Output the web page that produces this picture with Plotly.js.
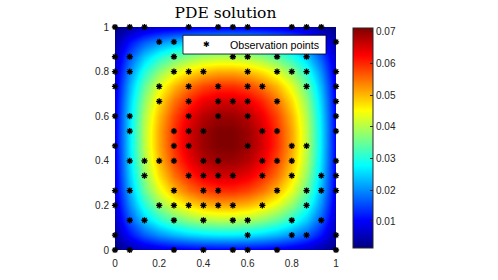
<!DOCTYPE html>
<html><head><meta charset="utf-8">
<script src="https://cdn.plot.ly/plotly-3.0.1.min.js"></script>
<style>html,body{margin:0;padding:0;background:#fff}#chart{width:498px;height:280px}</style>
</head><body><div id="chart"></div>
<script>
// grid coordinates of the solution field (16 x 16)
const gridX = [0, 0.0667, 0.1333, 0.2, 0.2667, 0.3333, 0.4, 0.4667, 0.5333, 0.6, 0.6667, 0.7333, 0.8, 0.8667, 0.9333, 1];
const gridY = [0, 0.0667, 0.1333, 0.2, 0.2667, 0.3333, 0.4, 0.4667, 0.5333, 0.6, 0.6667, 0.7333, 0.8, 0.8667, 0.9333, 1];
// solution values (rows = y, columns = x)
const solution = [
  [0.0016,0.0042,0.0060,0.0073,0.0082,0.0088,0.0092,0.0094,0.0094,0.0092,0.0088,0.0082,0.0073,0.0060,0.0042,0.0016],
  [0.0042,0.0112,0.0163,0.0200,0.0227,0.0246,0.0258,0.0264,0.0264,0.0258,0.0246,0.0227,0.0200,0.0163,0.0112,0.0042],
  [0.0060,0.0163,0.0240,0.0299,0.0342,0.0372,0.0392,0.0401,0.0401,0.0392,0.0372,0.0342,0.0299,0.0240,0.0163,0.0060],
  [0.0073,0.0200,0.0299,0.0374,0.0431,0.0471,0.0497,0.0510,0.0510,0.0497,0.0471,0.0431,0.0374,0.0299,0.0200,0.0073],
  [0.0082,0.0227,0.0342,0.0431,0.0498,0.0546,0.0577,0.0593,0.0593,0.0577,0.0546,0.0498,0.0431,0.0342,0.0227,0.0082],
  [0.0088,0.0246,0.0372,0.0471,0.0546,0.0600,0.0635,0.0653,0.0653,0.0635,0.0600,0.0546,0.0471,0.0372,0.0246,0.0088],
  [0.0092,0.0258,0.0392,0.0497,0.0577,0.0635,0.0673,0.0692,0.0692,0.0673,0.0635,0.0577,0.0497,0.0392,0.0258,0.0092],
  [0.0094,0.0264,0.0401,0.0510,0.0593,0.0653,0.0692,0.0711,0.0711,0.0692,0.0653,0.0593,0.0510,0.0401,0.0264,0.0094],
  [0.0094,0.0264,0.0401,0.0510,0.0593,0.0653,0.0692,0.0711,0.0711,0.0692,0.0653,0.0593,0.0510,0.0401,0.0264,0.0094],
  [0.0092,0.0258,0.0392,0.0497,0.0577,0.0635,0.0673,0.0692,0.0692,0.0673,0.0635,0.0577,0.0497,0.0392,0.0258,0.0092],
  [0.0088,0.0246,0.0372,0.0471,0.0546,0.0600,0.0635,0.0653,0.0653,0.0635,0.0600,0.0546,0.0471,0.0372,0.0246,0.0088],
  [0.0082,0.0227,0.0342,0.0431,0.0498,0.0546,0.0577,0.0593,0.0593,0.0577,0.0546,0.0498,0.0431,0.0342,0.0227,0.0082],
  [0.0073,0.0200,0.0299,0.0374,0.0431,0.0471,0.0497,0.0510,0.0510,0.0497,0.0471,0.0431,0.0374,0.0299,0.0200,0.0073],
  [0.0060,0.0163,0.0240,0.0299,0.0342,0.0372,0.0392,0.0401,0.0401,0.0392,0.0372,0.0342,0.0299,0.0240,0.0163,0.0060],
  [0.0042,0.0112,0.0163,0.0200,0.0227,0.0246,0.0258,0.0264,0.0264,0.0258,0.0246,0.0227,0.0200,0.0163,0.0112,0.0042],
  [0.0016,0.0042,0.0060,0.0073,0.0082,0.0088,0.0092,0.0094,0.0094,0.0092,0.0088,0.0082,0.0073,0.0060,0.0042,0.0016]
];
// observation points: one y per row, with the x positions on that row
const obsRowY = [0, 0.0667, 0.1333, 0.2, 0.2667, 0.3333, 0.4, 0.4667, 0.5333, 0.6, 0.6667, 0.7333, 0.8, 0.8667, 0.9333, 1];
const obsRowX = [
  [0, 0.0667, 0.2667, 0.4, 0.5333, 0.6, 0.7333, 1],
  [0, 0.6, 0.8, 0.8667, 1],
  [0.0667, 0.1333, 0.2667, 0.4, 0.5333, 0.6, 0.8, 0.9333],
  [0, 0.2, 0.2667, 0.3333, 0.4, 0.4667, 0.5333, 0.6667, 0.8667],
  [0, 0.0667, 0.2667, 0.4, 0.4667, 0.7333, 0.8667, 0.9333, 1],
  [0.1333, 0.3333, 0.4, 0.4667, 0.5333, 0.6667, 0.8, 0.9333, 1],
  [0.0667, 0.1333, 0.2, 0.2667, 0.4, 0.4667, 0.6667, 0.7333, 0.8, 1],
  [0, 0.2667, 0.3333, 0.6, 0.8, 0.8667],
  [0.0667, 0.2667, 0.3333, 0.4, 0.6667, 0.7333, 1],
  [0, 0.0667, 0.3333, 0.4667, 0.6, 1],
  [0.2, 0.3333, 0.4667, 0.5333, 0.6, 0.7333, 1],
  [0, 0.2, 0.3333, 0.4667, 0.6, 0.6667, 0.8667, 1],
  [0, 0.0667, 0.2667, 0.3333, 0.4, 0.6, 0.7333, 0.8, 0.8667, 1],
  [0, 0.0667, 0.2667, 0.5333, 0.6, 0.7333, 0.8667],
  [0.2, 0.2667, 1],
  [0, 0.0667, 0.1333, 0.3333, 0.4667, 0.5333, 0.6, 0.8, 0.8667, 0.9333]
];
const seriesName = 'Observation points';
const axisTicks = [0, 0.2, 0.4, 0.6, 0.8, 1];
const axisTickText = ['0', '0.2', '0.4', '0.6', '0.8', '1'];
const cbTicks = [0.01, 0.02, 0.03, 0.04, 0.05, 0.06, 0.07];
const cbTickText = ['0.01', '0.02', '0.03', '0.04', '0.05', '0.06', '0.07'];
const zRange = [0.0016, 0.0711];

const obsX = [], obsY = [];
obsRowX.forEach((row, i) => row.forEach(x => { obsX.push(x); obsY.push(obsRowY[i]); }));

const jet = [[0,'#000080'],[0.125,'#0000ff'],[0.375,'#00ffff'],[0.625,'#ffff00'],[0.875,'#ff0000'],[1,'#800000']];
const sansFam = 'Liberation Sans, Arial, sans-serif';
const tickFont = {family: sansFam, size: 10, color: '#262626'};

const traces = [
  {
    type: 'heatmap', x: gridX, y: gridY, z: solution, zsmooth: 'best',
    colorscale: jet, zmin: zRange[0], zmax: zRange[1], showlegend: false, hoverinfo: 'skip',
    colorbar: {
      thickness: 20, thicknessmode: 'pixels', len: 220, lenmode: 'pixels',
      x: 1.077, xanchor: 'left', xpad: 0, y: 0.994, yanchor: 'top', ypad: 0,
      outlinewidth: 1, outlinecolor: '#262626',
      ticks: 'inside', ticklen: 3, tickcolor: '#262626',
      tickvals: cbTicks, ticktext: cbTickText, tickfont: tickFont
    }
  },
  {
    type: 'scatter', mode: 'markers', x: obsX, y: obsY, name: seriesName,
    cliponaxis: false, showlegend: false,
    marker: {symbol: 'asterisk-open', size: 5.2, color: '#000', line: {width: 1.3, color: '#000'}}
  }
];

// legend box (drawn as shape + texts, in paper coordinates)
const legBox = {x0: 0.3077, x1: 0.9548, y0: 0.8789, y1: 0.9628};

const layout = {
  width: 498, height: 280,
  margin: {l: 115, r: 162, t: 27, b: 30, pad: 0},
  paper_bgcolor: '#fff', plot_bgcolor: '#fff',
  title: {text: 'PDE solution', font: {family: 'DejaVu Serif, serif', size: 15.5, color: '#000'},
          xref: 'paper', x: 0.5, xanchor: 'center', yref: 'container', y: 0.955, yanchor: 'middle'},
  xaxis: {range: [0, 1], tickvals: axisTicks, ticktext: axisTickText, showgrid: false, zeroline: false,
          showline: false, ticks: '', tickfont: tickFont, ticklabelstandoff: 6, fixedrange: true},
  yaxis: {range: [0, 1], tickvals: axisTicks, ticktext: axisTickText, showgrid: false, zeroline: false,
          showline: false, ticks: '', tickfont: tickFont, ticklabelstandoff: 5, fixedrange: true},
  showlegend: false,
  shapes: [{type: 'rect', xref: 'paper', yref: 'paper', layer: 'above',
            x0: legBox.x0, x1: legBox.x1, y0: legBox.y0, y1: legBox.y1,
            fillcolor: '#fff', line: {color: '#000', width: 0.8}}],
  annotations: [
    {xref: 'paper', yref: 'paper', x: 0.5113, y: (legBox.y0 + legBox.y1) / 2, xanchor: 'left', yanchor: 'middle',
     text: seriesName, showarrow: false, font: {family: sansFam, size: 10.7, color: '#000'}},
    {xref: 'paper', yref: 'paper', x: 0.4118, y: (legBox.y0 + legBox.y1) / 2, xanchor: 'center', yanchor: 'middle',
     text: '✱', showarrow: false, font: {family: 'DejaVu Sans, sans-serif', size: 8, color: '#000'}}
  ]
};

Plotly.newPlot('chart', traces, layout, {displayModeBar: false, staticPlot: true});
</script>
</body></html>
